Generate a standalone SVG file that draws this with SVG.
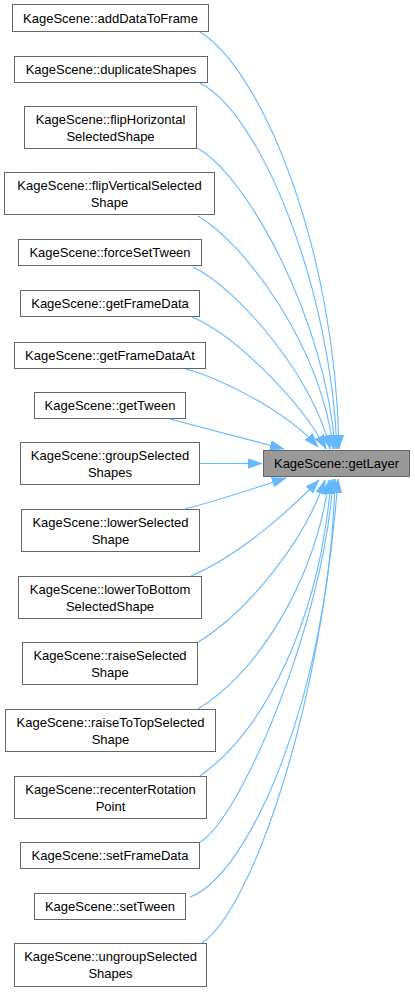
<svg xmlns="http://www.w3.org/2000/svg" width="415" height="992" viewBox="0 0 415 992">
<style>
.n rect{fill:#ffffff;stroke:#666666;stroke-width:1}
.n text{font-family:"Liberation Sans",Arial,sans-serif;font-size:13px;fill:#000000;text-anchor:middle}
#getLayer rect{fill:#999999}
.e path{fill:none;stroke:#63b8ff;stroke-width:1.1}
</style>
<defs>
<marker id="ah" markerUnits="userSpaceOnUse" markerWidth="15" markerHeight="11" refX="14" refY="5" orient="auto">
<path d="M0,0 L14,5 L0,10 z" fill="#63b8ff" stroke="#63b8ff" stroke-width="0.5"/>
</marker>
</defs>
<rect width="415" height="992" fill="#ffffff"/>
<g id="edges" class="e">
<path marker-end="url(#ah)" d="M200,32 C262,70 336,250 339,449"/>
<path marker-end="url(#ah)" d="M200,83 C262,115 331,290 337,449"/>
<path marker-end="url(#ah)" d="M197,148 C247,175 326,320 335,449"/>
<path marker-end="url(#ah)" d="M198,216 C247,245 323,350 333,449"/>
<path marker-end="url(#ah)" d="M193,267 C240,290 315,380 330,449"/>
<path marker-end="url(#ah)" d="M192,317 C235,335 300,400 326,449"/>
<path marker-end="url(#ah)" d="M183,368 C220,378 285,410 318,447"/>
<path marker-end="url(#ah)" d="M170,419 C215,431 250,440 284,449"/>
<path marker-end="url(#ah)" d="M200,463.5 L262,463.5"/>
<path marker-end="url(#ah)" d="M185,509 C220,500 255,488 286,478"/>
<path marker-end="url(#ah)" d="M191,576 C240,555 290,510 319,480"/>
<path marker-end="url(#ah)" d="M197,643 C250,610 305,540 325,480"/>
<path marker-end="url(#ah)" d="M198,709 C260,670 315,580 329,480"/>
<path marker-end="url(#ah)" d="M200,776 C265,730 320,620 331,480"/>
<path marker-end="url(#ah)" d="M200,842 C240,820 325,620 333,479"/>
<path marker-end="url(#ah)" d="M190,897 C250,875 330,690 335,479"/>
<path marker-end="url(#ah)" d="M202,943 C250,910 320,720 338,479"/>
</g>
<g id="getLayer" class="n"><rect x="263.5" y="450.5" width="146" height="26"/><text x="336.5" y="468">KageScene::getLayer</text></g>
<g id="addDataToFrame" class="n"><rect x="12.5" y="4.5" width="196" height="27"/><text x="110.5" y="22.5">KageScene::addDataToFrame</text></g>
<g id="duplicateShapes" class="n"><rect x="14.5" y="56.5" width="193" height="26"/><text x="111" y="74">KageScene::duplicateShapes</text></g>
<g id="flipHorizontalSelectedShape" class="n"><rect x="24.5" y="106.5" width="172" height="42"/><text x="110.5" y="124">KageScene::flipHorizontal</text><text x="110.5" y="141">SelectedShape</text></g>
<g id="flipVerticalSelectedShape" class="n"><rect x="4.5" y="172.5" width="210" height="42"/><text x="109.5" y="190">KageScene::flipVerticalSelected</text><text x="109.5" y="207">Shape</text></g>
<g id="forceSetTween" class="n"><rect x="18.5" y="239.5" width="183" height="26"/><text x="110" y="257">KageScene::forceSetTween</text></g>
<g id="getFrameData" class="n"><rect x="20.5" y="290.5" width="179" height="26"/><text x="110" y="308">KageScene::getFrameData</text></g>
<g id="getFrameDataAt" class="n"><rect x="14.5" y="342.5" width="191" height="26"/><text x="110" y="360">KageScene::getFrameDataAt</text></g>
<g id="getTween" class="n"><rect x="34.5" y="392.5" width="151" height="26"/><text x="110" y="410">KageScene::getTween</text></g>
<g id="groupSelectedShapes" class="n"><rect x="20.5" y="442.5" width="179" height="42"/><text x="110" y="460">KageScene::groupSelected</text><text x="110" y="477">Shapes</text></g>
<g id="lowerSelectedShape" class="n"><rect x="21.5" y="509.5" width="178" height="42"/><text x="110.5" y="527">KageScene::lowerSelected</text><text x="110.5" y="544">Shape</text></g>
<g id="lowerToBottomSelectedShape" class="n"><rect x="18.5" y="576.5" width="183" height="42"/><text x="110" y="594">KageScene::lowerToBottom</text><text x="110" y="611">SelectedShape</text></g>
<g id="raiseSelectedShape" class="n"><rect x="22.5" y="642.5" width="175" height="42"/><text x="110" y="660">KageScene::raiseSelected</text><text x="110" y="677">Shape</text></g>
<g id="raiseToTopSelectedShape" class="n"><rect x="5.5" y="709.5" width="210" height="42"/><text x="110.5" y="727">KageScene::raiseToTopSelected</text><text x="110.5" y="744">Shape</text></g>
<g id="recenterRotationPoint" class="n"><rect x="14.5" y="776.5" width="192" height="42"/><text x="110.5" y="794">KageScene::recenterRotation</text><text x="110.5" y="811">Point</text></g>
<g id="setFrameData" class="n"><rect x="20.5" y="842.5" width="179" height="26"/><text x="110" y="860">KageScene::setFrameData</text></g>
<g id="setTween" class="n"><rect x="34.5" y="893.5" width="151" height="26"/><text x="110" y="911">KageScene::setTween</text></g>
<g id="ungroupSelectedShapes" class="n"><rect x="14.5" y="943.5" width="192" height="43"/><text x="110.5" y="961">KageScene::ungroupSelected</text><text x="110.5" y="978">Shapes</text></g>
</svg>
